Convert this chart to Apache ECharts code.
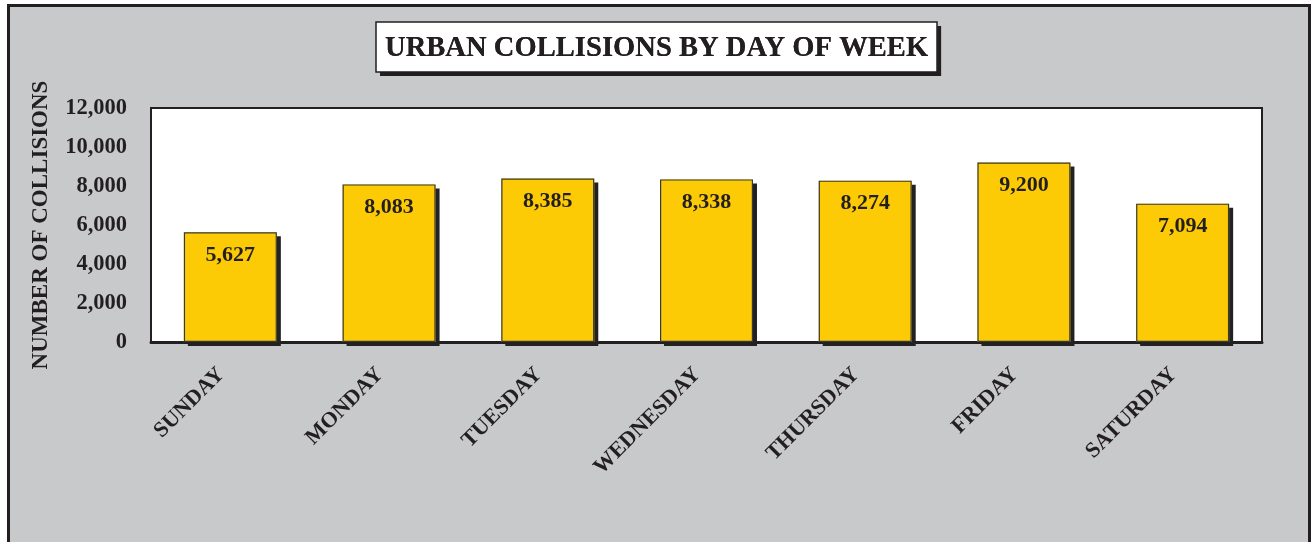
<!DOCTYPE html>
<html>
<head>
<meta charset="utf-8">
<script src="https://cdn.jsdelivr.net/npm/echarts@6/dist/echarts.min.js"></script>
<style>
    html, body { margin: 0; padding: 0; background: #fff; }
    #chart { width: 1311px; height: 542px; }
</style>
</head>
<body>
<div id="chart"></div>
<script>
    // data
    var days = ['SUNDAY', 'MONDAY', 'TUESDAY', 'WEDNESDAY', 'THURSDAY', 'FRIDAY', 'SATURDAY'];
    var collisions = [5627, 8083, 8385, 8338, 8274, 9200, 7094];
    var yTicks = [0, 2000, 4000, 6000, 8000, 10000, 12000];
    var titleText = 'URBAN COLLISIONS BY DAY OF WEEK';

    var serif = "'Liberation Serif', 'Times New Roman', serif";
    var ink = '#231f20';

    function fmt(v) {
        return String(v).replace(/\B(?=(\d{3})+(?!\d))/g, ',');
    }

    var titleBase = {
        text: titleText,
        left: 376,
        top: 22,
        padding: [12, 9, 9, 9],
        textStyle: {
            fontFamily: serif,
            fontWeight: 'bold',
            fontSize: 28.6,
            color: ink
        }
    };

    var myChart = echarts.init(document.getElementById('chart'));
    myChart.setOption({
        backgroundColor: '#fff',
        animation: false,
        graphic: [{
            type: 'rect',
            z: -1,
            shape: { x: 8.5, y: 5.5, width: 1301, height: 600 },
            style: { fill: '#c8c9cb', stroke: ink, lineWidth: 3 }
        }],
        // title drawn twice: once for the box shadow, once for the border
        title: [
            Object.assign({}, titleBase, {
                backgroundColor: '#fff',
                shadowColor: ink,
                shadowBlur: 0,
                shadowOffsetX: 4,
                shadowOffsetY: 4
            }),
            Object.assign({}, titleBase, {
                borderColor: ink,
                borderWidth: 1.5
            })
        ],
        grid: {
            left: 151,
            right: 49,
            top: 108,
            bottom: 200,
            show: true,
            backgroundColor: '#fff',
            borderColor: ink,
            borderWidth: 2
        },
        xAxis: {
            type: 'category',
            data: days,
            axisLine: { lineStyle: { color: ink, width: 3 } },
            axisTick: { show: false },
            axisLabel: {
                rotate: 45,
                margin: 20,
                padding: [0, 13, 0, 0],
                interval: 0,
                fontFamily: serif,
                fontWeight: 'bold',
                fontSize: 22,
                color: ink
            }
        },
        yAxis: {
            type: 'value',
            min: yTicks[0],
            max: yTicks[yTicks.length - 1],
            interval: yTicks[1] - yTicks[0],
            name: 'NUMBER OF COLLISIONS',
            nameLocation: 'middle',
            nameGap: 98,
            nameTextStyle: {
                fontFamily: serif,
                fontWeight: 'bold',
                fontSize: 23,
                color: ink
            },
            axisLine: { show: false },
            axisTick: { show: false },
            splitLine: { show: false },
            axisLabel: {
                margin: 24,
                fontFamily: serif,
                fontWeight: 'bold',
                fontSize: 22.5,
                color: ink,
                formatter: fmt
            }
        },
        series: [{
            // filled bars with the dark drop shadow
            type: 'bar',
            data: collisions,
            barWidth: 93,
            itemStyle: {
                color: '#fccb06',
                shadowColor: '#222',
                shadowBlur: 0,
                shadowOffsetX: 4,
                shadowOffsetY: 4
            }
        }, {
            // outline + value labels on top
            type: 'bar',
            data: collisions,
            barWidth: 93,
            barGap: '-100%',
            itemStyle: {
                color: 'rgba(0,0,0,0)',
                borderColor: '#3a3a3a',
                borderWidth: 1.2
            },
            label: {
                show: true,
                position: 'insideTop',
                distance: 12,
                fontFamily: serif,
                fontWeight: 'bold',
                fontSize: 22,
                color: ink,
                formatter: function (p) { return fmt(p.value); }
            }
        }]
    });
</script>
</body>
</html>
